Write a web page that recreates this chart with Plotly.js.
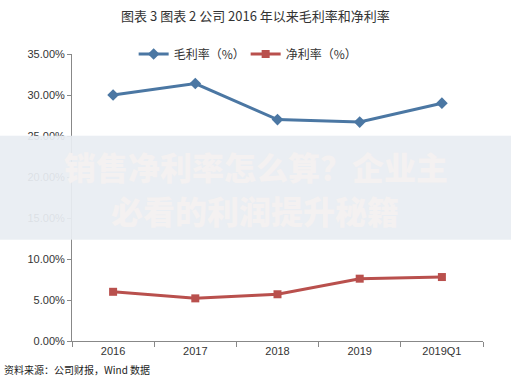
<!DOCTYPE html>
<html>
<head>
<meta charset="utf-8">
<script src="https://cdn.plot.ly/plotly-3.0.1.min.js"></script>
<style>html,body{margin:0;padding:0;background:#fff;}#chart{width:511px;height:377px;}</style>
</head>
<body>
<div id="chart"></div>
<script>
const categories = ["2016", "2017", "2018", "2019", "2019Q1"];
const grossMargin = [0.300, 0.314, 0.270, 0.267, 0.290];
const netMargin = [0.060, 0.052, 0.057, 0.076, 0.078];
const seriesNames = ["毛利率（%）", "净利率（%）"];
const titleText = "图表 3 图表 2 公司 2016 年以来毛利率和净利率";
const watermarkLines = ["销售净利率怎么算？企业主", "必看的利润提升秘籍"];
const sourceText = "资料来源：公司财报，Wind 数据";

const fontFam = "'Liberation Sans', 'Noto Sans CJK SC', sans-serif";
const data = [
  {x: categories, y: grossMargin, name: seriesNames[0], type: "scatter", mode: "lines+markers",
   line: {color: "#4b77a3", width: 3}, marker: {symbol: "diamond", size: 9, color: "#4b77a3"}},
  {x: categories, y: netMargin, name: seriesNames[1], type: "scatter", mode: "lines+markers",
   line: {color: "#b9504d", width: 3}, marker: {symbol: "square", size: 8, color: "#b9504d"}}
];
const layout = {
  width: 511, height: 377,
  margin: {l: 72, r: 28, t: 54, b: 35.5},
  paper_bgcolor: "#fff", plot_bgcolor: "#fff",
  font: {family: fontFam, color: "#333", size: 11},
  title: {text: titleText, x: 0.5, xanchor: "center", y: 0.957, yanchor: "middle",
          font: {size: 13, color: "#333", family: "'Noto Sans CJK SC', sans-serif"}},
  showlegend: true,
  legend: {orientation: "h", x: 0.15, xanchor: "left", y: 1.0, yanchor: "middle",
           font: {size: 12, color: "#333", family: "'Noto Sans CJK SC', sans-serif"},
           bgcolor: "rgba(0,0,0,0)", entrywidth: 67, entrywidthmode: "pixels"},
  xaxis: {type: "category", range: [-0.5, 4.5], showgrid: false, zeroline: false, showline: true, linecolor: "#888", linewidth: 1,
          ticks: "outside", tickson: "boundaries", ticklen: 5, tickcolor: "#888",
          tickfont: {size: 11, color: "#333"}, fixedrange: true},
  yaxis: {range: [0, 0.35], dtick: 0.05, tickformat: ".2%", showgrid: false, zeroline: false,
          showline: true, linecolor: "#888", linewidth: 1, ticks: "outside", ticklen: 4, tickcolor: "#888",
          tickfont: {size: 11, color: "#333"}, fixedrange: true},
  shapes: [
    {type: "rect", xref: "paper", yref: "paper", x0: -0.2, x1: 1.1, y0: (377-240-35.5)/287.5, y1: (377-136-35.5)/287.5,
     fillcolor: "#e8edf2", opacity: 0.93, line: {width: 0}, layer: "above"}
  ],
  annotations: [
    {text: watermarkLines[0], xref: "paper", yref: "paper", x: (256-72)/411, y: (377-166-35.5)/287.5,
     showarrow: false, font: {size: 32, color: "#f4f1f1", family: "'Noto Sans CJK SC', sans-serif", weight: 900}},
    {text: watermarkLines[1], xref: "paper", yref: "paper", x: (255-72)/411, y: (377-210-35.5)/287.5,
     showarrow: false, font: {size: 32, color: "#f4f1f1", family: "'Noto Sans CJK SC', sans-serif", weight: 900}},
    {text: sourceText, xref: "paper", yref: "paper", x: (2-72)/411, xanchor: "left", y: (377-361-35.5)/287.5, yanchor: "top",
     showarrow: false, font: {size: 10, color: "#222", family: "'Noto Sans CJK SC', sans-serif"}}
  ]
};
Plotly.newPlot("chart", data, layout, {displayModeBar: false, staticPlot: true});
</script>
</body>
</html>
